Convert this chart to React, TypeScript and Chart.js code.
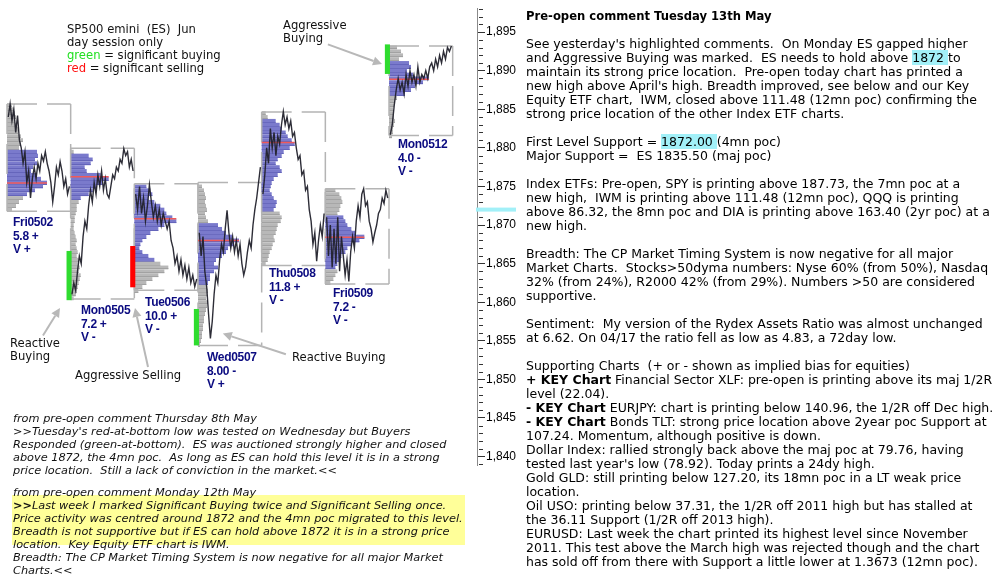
import React, { useEffect, useRef } from 'react';
import { Chart, registerables } from 'chart.js';

Chart.register(...registerables);

// ---------------- data ----------------
const dayNames = ['Fri0502', 'Mon0505', 'Tue0506', 'Wed0507', 'Thu0508', 'Fri0509', 'Mon0512'];
const dayRange = ['5.8 +', '7.2 +', '10.0 +', '8.00 -', '11.8 +', '7.2 -', '4.0 -'];
const dayVolume = ['V +', 'V -', 'V -', 'V +', 'V -', 'V -', 'V -'];

const priceFri0502 = [1884.0, 1885.7, 1883.5, 1885.0, 1882.0, 1884.2, 1881.0, 1880.0, 1878.0, 1879.5, 1875.5, 1877.0, 1873.5, 1876.0, 1877.5, 1876.0, 1878.0, 1877.0, 1879.0, 1878.3, 1879.5, 1878.0, 1877.0, 1875.5, 1873.0, 1875.0, 1877.5, 1876.5, 1878.2, 1877.0, 1875.0, 1876.0, 1874.0, 1875.0];
const priceMon0505 = [1861.0, 1862.5, 1861.5, 1864.0, 1866.0, 1865.0, 1868.5, 1870.5, 1869.5, 1872.5, 1874.5, 1873.0, 1875.5, 1874.0, 1876.5, 1875.0, 1877.0, 1874.5, 1876.0, 1874.0, 1873.5, 1875.0, 1876.5, 1876.0, 1877.5, 1877.0, 1878.5, 1878.0, 1879.9, 1879.0, 1879.5, 1877.5, 1878.5, 1877.0];
const priceTue0506 = [1874.0, 1872.0, 1875.0, 1871.5, 1873.5, 1870.5, 1872.5, 1875.2, 1873.0, 1871.0, 1872.5, 1870.5, 1872.0, 1870.0, 1871.5, 1870.5, 1869.5, 1870.5, 1868.0, 1867.0, 1865.0, 1866.0, 1864.0, 1865.5, 1863.5, 1864.8, 1863.0, 1864.5, 1862.5, 1863.5, 1862.0, 1863.0];
const priceWed0507 = [1869.0, 1866.0, 1868.5, 1864.0, 1862.0, 1858.5, 1855.3, 1857.5, 1861.0, 1863.5, 1862.5, 1865.5, 1867.5, 1866.5, 1869.5, 1871.9, 1869.0, 1867.0, 1868.5, 1866.5, 1868.0, 1866.0, 1867.5, 1865.0, 1863.5, 1864.5, 1866.5, 1868.0, 1867.0, 1870.0, 1872.0, 1873.5, 1875.5, 1877.5];
const priceThu0508 = [1874.0, 1876.5, 1880.0, 1878.0, 1882.5, 1880.0, 1882.0, 1879.0, 1881.5, 1880.5, 1883.0, 1884.7, 1883.0, 1884.0, 1882.5, 1883.5, 1881.5, 1882.0, 1880.0, 1878.5, 1879.0, 1876.5, 1877.0, 1874.5, 1875.0, 1872.0, 1870.5, 1867.5, 1869.0, 1865.3, 1868.0, 1870.0, 1868.5, 1871.5];
const priceFri0509 = [1871.0, 1866.0, 1870.0, 1864.5, 1869.5, 1865.0, 1871.0, 1864.0, 1868.5, 1866.0, 1863.5, 1865.5, 1862.7, 1866.5, 1868.5, 1867.0, 1870.5, 1872.5, 1871.0, 1874.0, 1874.7, 1872.5, 1873.0, 1870.5, 1869.5, 1867.8, 1869.0, 1870.0, 1871.5, 1872.0, 1873.5, 1872.8, 1874.5, 1873.5];
const priceMon0512 = [1881.7, 1883.0, 1885.5, 1887.5, 1889.0, 1887.5, 1888.5, 1887.0, 1889.5, 1888.0, 1890.0, 1888.5, 1889.5, 1888.0, 1890.5, 1888.5, 1889.5, 1889.0, 1890.0, 1889.0, 1890.5, 1891.0, 1890.0, 1891.5, 1890.5, 1892.0, 1891.0, 1892.5, 1891.5, 1893.0, 1892.5, 1893.2];
const prices = [priceFri0502, priceMon0505, priceTue0506, priceWed0507, priceThu0508, priceFri0509, priceMon0512];

// market profile: counts per 0.5 pt row, from profileTop downwards
const profileFri0502 = [5, 7, 8, 9, 8, 10, 12, 11, 14, 16, 14, 12, 30, 31, 28, 30, 26, 24, 30, 34, 40, 36, 28, 20, 16, 12, 9, 5];
const profileMon0505 = [3, 18, 22, 20, 14, 16, 30, 38, 32, 26, 22, 18, 10, 8, 6, 6, 5, 4, 4, 3, 3, 4, 5, 6, 5, 6, 7, 6, 8, 7, 9, 8, 10, 9, 8, 7, 6, 5, 3];
const profileTue0506 = [12, 16, 18, 14, 20, 26, 30, 32, 38, 42, 30, 24, 16, 12, 8, 6, 5, 8, 14, 20, 26, 34, 30, 24, 18, 12, 8, 4];
const profileWed0507 = [4, 6, 7, 8, 7, 8, 9, 7, 8, 10, 20, 24, 28, 34, 41, 36, 30, 28, 24, 18, 16, 20, 16, 12, 12, 10, 9, 10, 9, 8, 10, 9, 8, 7, 6, 6, 5, 5, 4, 4, 3, 2];
const profileThu0508 = [4, 6, 14, 18, 20, 24, 26, 30, 33, 28, 22, 20, 16, 14, 18, 20, 16, 12, 10, 9, 8, 10, 12, 15, 14, 12, 18, 20, 19, 16, 15, 14, 12, 13, 11, 10, 8, 7, 6, 4];
const profileFri0509 = [10, 14, 16, 17, 15, 14, 12, 18, 20, 22, 26, 30, 39, 34, 26, 22, 20, 16, 14, 12, 10, 12, 10, 8, 5];
const profileMon0512 = [8, 12, 14, 10, 20, 22, 18, 24, 40, 34, 26, 22, 16, 8, 6, 5, 4, 4, 5, 6, 5, 4, 4, 3];
const profiles = [profileFri0502, profileMon0505, profileTue0506, profileWed0507, profileThu0508, profileFri0509, profileMon0512];

const profileTop = [1885.5, 1879.5, 1875.0, 1875.0, 1884.5, 1874.5, 1893.0];
const vaHigh = [1879.5, 1879.0, 1875.0, 1870.0, 1883.5, 1871.0, 1891.0];
const vaLow = [1874.0, 1873.5, 1865.5, 1862.5, 1872.0, 1864.5, 1887.0];
const pocPrice = [1875.45, 1876.25, 1870.8, 1868.0, 1880.7, 1868.4, 1888.9];
const sessionHigh = [1885.7, 1879.95, 1875.35, 1875.5, 1884.65, 1874.7, 1893.2];
const sessionLow = [1871.8, 1860.4, 1861.55, 1854.4, 1864.75, 1862.35, 1881.6];

// significant buying / selling marks
const signalDay = [1, 2, 3, 6];
const signalLow = [1860.26, 1861.93, 1854.4, 1889.58];
const signalHigh = [1866.64, 1867.28, 1859.12, 1893.41];
const signalKind = ['buy', 'sell', 'buy', 'buy'];

const supportLevel = 1872;
const axisMin = 1838.9;
const axisMax = 1898.1;

// annotation arrows (day units, price)
const arrowFrom = [[5.04, 1893.41], [0.565, 1855.68], [2.215, 1851.6], [4.38, 1853.25]];
const arrowTo = [[5.89, 1890.86], [0.832, 1859.24], [2.01, 1859.24], [3.39, 1855.93]];

// ---------------- drawing ----------------
const X_MIN = -0.11;
const X_MAX = 7.382;
const COUNT_UNIT = 1 / 63.67;
const ROW = 0.5;

const profilePlugin = {
  id: 'marketProfile',
  beforeDatasetsDraw(chart: any) {
    const { ctx } = chart;
    const xs = chart.scales.x;
    const ys = chart.scales.y;
    ctx.save();
    for (let d = 0; d < profiles.length; d++) {
      const left = xs.getPixelForValue(d);
      const right = xs.getPixelForValue(d + 1);
      const top = ys.getPixelForValue(sessionHigh[d]);
      const bottom = ys.getPixelForValue(sessionLow[d]);
      let maxW = 0;
      profiles[d].forEach((cnt, k) => {
        const price = profileTop[d] - k * ROW;
        const y0 = ys.getPixelForValue(price + ROW / 2);
        const y1 = ys.getPixelForValue(price - ROW / 2);
        const x1 = xs.getPixelForValue(d + cnt * COUNT_UNIT);
        const inVA = price <= vaHigh[d] && price >= vaLow[d];
        ctx.fillStyle = inVA ? 'rgb(122,122,204)' : 'rgb(184,184,184)';
        ctx.fillRect(left, y0, x1 - left, y1 - y0);
        ctx.fillStyle = inVA ? 'rgb(100,100,186)' : 'rgb(162,162,162)';
        ctx.fillRect(left, Math.round(y1) - 1, x1 - left, 1);
        maxW = Math.max(maxW, cnt);
      });
      // session box
      ctx.strokeStyle = '#b4b4b4';
      ctx.lineWidth = 1.5;
      ctx.setLineDash([30, 10]);
      const edge = (ax: number, ay: number, bx: number, by: number) => {
        ctx.beginPath();
        ctx.moveTo(ax, ay);
        ctx.lineTo(bx, by);
        ctx.stroke();
      };
      edge(left, top, right, top);
      edge(right, top, right, bottom);
      edge(left, bottom, right, bottom);
      edge(left, top, left, bottom);
      ctx.setLineDash([]);
      // point of control
      const py = ys.getPixelForValue(pocPrice[d]);
      ctx.strokeStyle = 'rgb(240,90,90)';
      ctx.lineWidth = 1.5;
      edge(left, py, xs.getPixelForValue(d + maxW * COUNT_UNIT), py);
    }
    // signals
    signalDay.forEach((d, i) => {
      const x0 = xs.getPixelForValue(d - 0.065);
      const x1 = xs.getPixelForValue(d + 0.015);
      const y0 = ys.getPixelForValue(signalHigh[i]);
      const y1 = ys.getPixelForValue(signalLow[i]);
      ctx.fillStyle = signalKind[i] === 'buy' ? '#2fdc2f' : '#ff0000';
      ctx.fillRect(x0, y0, x1 - x0, y1 - y0);
    });
    ctx.restore();
  },
  afterDraw(chart: any) {
    const { ctx, chartArea } = chart;
    const xs = chart.scales.x;
    const ys = chart.scales.y;
    ctx.save();
    // minor ticks
    ctx.fillStyle = '#333';
    for (let v = Math.ceil(axisMin); v <= Math.floor(axisMax); v++) {
      if (v % 5 === 0) continue;
      const py = Math.round(ys.getPixelForValue(v));
      ctx.fillRect(chartArea.right + 2, py, 4, 1);
    }
    // support marker
    const sy = ys.getPixelForValue(supportLevel);
    ctx.fillStyle = '#a2f0f8';
    ctx.fillRect(chartArea.right - 1, sy - 2, 40, 4);
    // arrows
    ctx.strokeStyle = '#b8b8b8';
    ctx.fillStyle = '#b8b8b8';
    ctx.lineWidth = 2;
    arrowFrom.forEach((f, i) => {
      const t = arrowTo[i];
      const x1 = xs.getPixelForValue(f[0]);
      const y1 = ys.getPixelForValue(f[1]);
      const x2 = xs.getPixelForValue(t[0]);
      const y2 = ys.getPixelForValue(t[1]);
      const ang = Math.atan2(y2 - y1, x2 - x1);
      const hl = 9;
      const bx = x2 - hl * Math.cos(ang);
      const by = y2 - hl * Math.sin(ang);
      ctx.beginPath();
      ctx.moveTo(x1, y1);
      ctx.lineTo(bx, by);
      ctx.stroke();
      ctx.beginPath();
      ctx.moveTo(x2, y2);
      ctx.lineTo(bx + 4.5 * Math.sin(ang), by - 4.5 * Math.cos(ang));
      ctx.lineTo(bx - 4.5 * Math.sin(ang), by + 4.5 * Math.cos(ang));
      ctx.closePath();
      ctx.fill();
    });
    ctx.restore();
  },
};

// ---------------- text ----------------
const rightFont: React.CSSProperties = { fontFamily: '"DejaVu Sans", Verdana, sans-serif', fontSize: 12.5, color: '#000' };
const smallFont: React.CSSProperties = { fontFamily: '"DejaVu Sans", Verdana, sans-serif', fontSize: 11.6, color: '#111' };
const noteFont: React.CSSProperties = { fontFamily: '"DejaVu Sans", Verdana, sans-serif', fontSize: 11.3, color: '#111', fontStyle: 'italic' };
const dayFont: React.CSSProperties = { fontFamily: '"Liberation Sans", Arial, sans-serif', fontSize: 12, fontWeight: 'bold', color: '#0b0b80', letterSpacing: -0.3 };

const cy = { background: '#a2f0f8' };
const B = (s: string) => <b>{s}</b>;

const rightLines: [number, React.ReactNode][] = [
  [44, "See yesterday's highlighted comments.  On Monday ES gapped higher"],
  [58, <>and Aggressive Buying was marked.  ES needs to hold above <span style={cy}>1872 </span>to</>],
  [72, 'maintain its strong price location.  Pre-open today chart has printed a'],
  [86, "new high above April's high. Breadth improved, see below and our Key"],
  [100, 'Equity ETF chart,  IWM, closed above 111.48 (12mn poc) confirming the'],
  [114, 'strong price location of the other Index ETF charts.'],
  [142, <>First Level Support = <span style={cy}>1872.00 </span>(4mn poc)</>],
  [156, 'Major Support =  ES 1835.50 (maj poc)'],
  [184, 'Index ETFs: Pre-open, SPY is printing above 187.73, the 7mn poc at a'],
  [198, 'new high,  IWM is printing above 111.48 (12mn poc), QQQ is printing'],
  [212, 'above 86.32, the 8mn poc and DIA is printing above 163.40 (2yr poc) at a'],
  [226, 'new high.'],
  [254, 'Breadth: The CP Market Timing System is now negative for all major'],
  [268, 'Market Charts.  Stocks>50dyma numbers: Nyse 60% (from 50%), Nasdaq'],
  [282, '32% (from 24%), R2000 42% (from 29%). Numbers >50 are considered'],
  [296, 'supportive.'],
  [324, 'Sentiment:  My version of the Rydex Assets Ratio was almost unchanged'],
  [338, 'at 6.62. On 04/17 the ratio fell as low as 4.83, a 72day low.'],
  [366, 'Supporting Charts  (+ or - shown as implied bias for equities)'],
  [380, <>{B('+ KEY Chart')} Financial Sector XLF: pre-open is printing above its maj 1/2R</>],
  [394, 'level (22.04).'],
  [408, <>{B('- KEY Chart')} EURJPY: chart is printing below 140.96, the 1/2R off Dec high.</>],
  [422, <>{B('- KEY Chart')} Bonds TLT: strong price location above 2year poc Support at</>],
  [436, '107.24. Momentum, although positive is down.'],
  [450, 'Dollar Index: rallied strongly back above the maj poc at 79.76, having'],
  [464, "tested last year's low (78.92). Today prints a 24dy high."],
  [478, 'Gold GLD: still printing below 127.20, its 18mn poc in a LT weak price'],
  [492, 'location.'],
  [506, 'Oil USO: printing below 37.31, the 1/2R off 2011 high but has stalled at'],
  [520, 'the 36.11 Support (1/2R off 2013 high).'],
  [534, 'EURUSD: Last week the chart printed its highest level since November'],
  [548, '2011. This test above the March high was rejected though and the chart'],
  [562, 'has sold off from there with Support a little lower at 1.3673 (12mn poc).'],
];

const leftLines: [number, React.ReactNode][] = [
  [418, 'from pre-open comment Thursday 8th May'],
  [431, ">>Tuesday's red-at-bottom low was tested on Wednesday but Buyers"],
  [444, 'Responded (green-at-bottom).  ES was auctioned strongly higher and closed'],
  [457, 'above 1872, the 4mn poc.  As long as ES can hold this level it is in a strong'],
  [470, 'price location.  Still a lack of conviction in the market.<<'],
  [492, 'from pre-open comment Monday 12th May'],
  [505, <>{B('>>')}Last week I marked Significant Buying twice and Significant Selling once.</>],
  [518, 'Price activity was centred around 1872 and the 4mn poc migrated to this level.'],
  [531, 'Breadth is not supportive but if ES can hold above 1872 it is in a strong price'],
  [544, 'location.  Key Equity ETF chart is IWM.'],
  [557, 'Breadth: The CP Market Timing System is now negative for all major Market'],
  [570, 'Charts.<<'],
];

const dayLabelPos: [number, number][] = [[13, 222], [81, 310], [145, 302], [207, 357], [269, 273], [333, 293], [398, 144]];

const T = ({ x, y, h, style, children }: any) => (
  <div style={{ position: 'absolute', left: x, top: y - h / 2, height: h, lineHeight: h + 'px', whiteSpace: 'pre', ...style }}>
    {children}
  </div>
);

export default function App() {
  const ref = useRef<HTMLCanvasElement>(null);
  useEffect(() => {
    if (!ref.current) return;
    const chart = new Chart(ref.current, {
      type: 'line',
      data: {
        datasets: prices.map((arr, d) => ({
          label: dayNames[d],
          data: arr.map((v, k) => ({ x: d + 0.02 + (k * 0.96) / (arr.length - 1), y: v })),
          borderColor: 'rgba(34,34,44,0.95)',
          borderWidth: 1.4,
          pointRadius: 0,
          tension: 0,
          fill: false,
        })),
      },
      options: {
        responsive: false,
        animation: false,
        events: [],
        layout: { padding: { left: 0, top: 0, right: 475, bottom: 118 } },
        plugins: { legend: { display: false }, tooltip: { enabled: false }, title: { display: false } },
        scales: {
          x: { type: 'linear', display: false, min: X_MIN, max: X_MAX },
          y: {
            type: 'linear',
            position: 'right',
            min: axisMin,
            max: axisMax,
            afterBuildTicks: (s: any) => {
              const t = [];
              for (let v = Math.ceil(axisMin); v <= Math.floor(axisMax); v++) t.push({ value: v });
              s.ticks = t;
            },
            afterFit: (s: any) => {
              s.width = 48;
            },
            border: { display: true, color: '#8a8a8a', width: 1 },
            grid: {
              drawOnChartArea: false,
              drawTicks: true,
              tickLength: 8,
              tickWidth: 1,
              tickColor: (c: any) => (c.tick && c.tick.value % 5 === 0 ? '#333' : 'rgba(0,0,0,0)'),
            },
            ticks: {
              autoSkip: false,
              padding: 1,
              color: '#000',
              font: { family: '"Liberation Sans", Arial, sans-serif', size: 12 },
              callback: (v: any) => (Number(v) % 5 === 0 ? Number(v).toLocaleString('en-US') : ''),
            },
          },
        },
      },
      plugins: [profilePlugin],
    } as any);
    return () => chart.destroy();
  }, []);

  return (
    <div style={{ position: 'fixed', left: 0, top: 0, width: 1000, height: 583, background: '#fff', overflow: 'hidden' }}>
      <canvas ref={ref} width={1000} height={583} style={{ position: 'absolute', left: 0, top: 0, width: 1000, height: 583 }} />
      {/* legend */}
      <T x={67} y={29} h={13} style={smallFont}>SP500 emini  (ES)  Jun</T>
      <T x={67} y={42} h={13} style={smallFont}>day session only</T>
      <T x={67} y={55} h={13} style={smallFont}><span style={{ color: '#22e022' }}>green</span> = significant buying</T>
      <T x={67} y={68} h={13} style={smallFont}><span style={{ color: '#ff1010' }}>red</span> = significant selling</T>
      {/* annotations */}
      <T x={283} y={25} h={13} style={smallFont}>Aggressive</T>
      <T x={283} y={38} h={13} style={smallFont}>Buying</T>
      <T x={10} y={343} h={13} style={smallFont}>Reactive</T>
      <T x={10} y={356} h={13} style={smallFont}>Buying</T>
      <T x={75} y={375} h={13} style={smallFont}>Aggressive Selling</T>
      <T x={292} y={357} h={13} style={smallFont}>Reactive Buying</T>
      {/* day labels */}
      {dayNames.map((n, i) => (
        <React.Fragment key={n}>
          <T x={dayLabelPos[i][0]} y={dayLabelPos[i][1]} h={14} style={dayFont}>{n}</T>
          <T x={dayLabelPos[i][0]} y={dayLabelPos[i][1] + 14} h={14} style={dayFont}>{dayRange[i]}</T>
          <T x={dayLabelPos[i][0]} y={dayLabelPos[i][1] + 27} h={14} style={dayFont}>{dayVolume[i]}</T>
        </React.Fragment>
      ))}
      {/* bottom-left notes */}
      <div style={{ position: 'absolute', left: 12, top: 495, width: 453, height: 50, background: '#ffff99' }} />
      {leftLines.map(([y, c], i) => (
        <T key={'l' + i} x={13} y={y} h={13} style={noteFont}>{c}</T>
      ))}
      {/* right panel */}
      <T x={526} y={16} h={14} style={{ ...rightFont, fontSize: 11.6, fontWeight: 'bold' }}>Pre-open comment Tuesday 13th May</T>
      {rightLines.map(([y, c], i) => (
        <T key={'r' + i} x={526} y={y} h={14} style={rightFont}>{c}</T>
      ))}
    </div>
  );
}
